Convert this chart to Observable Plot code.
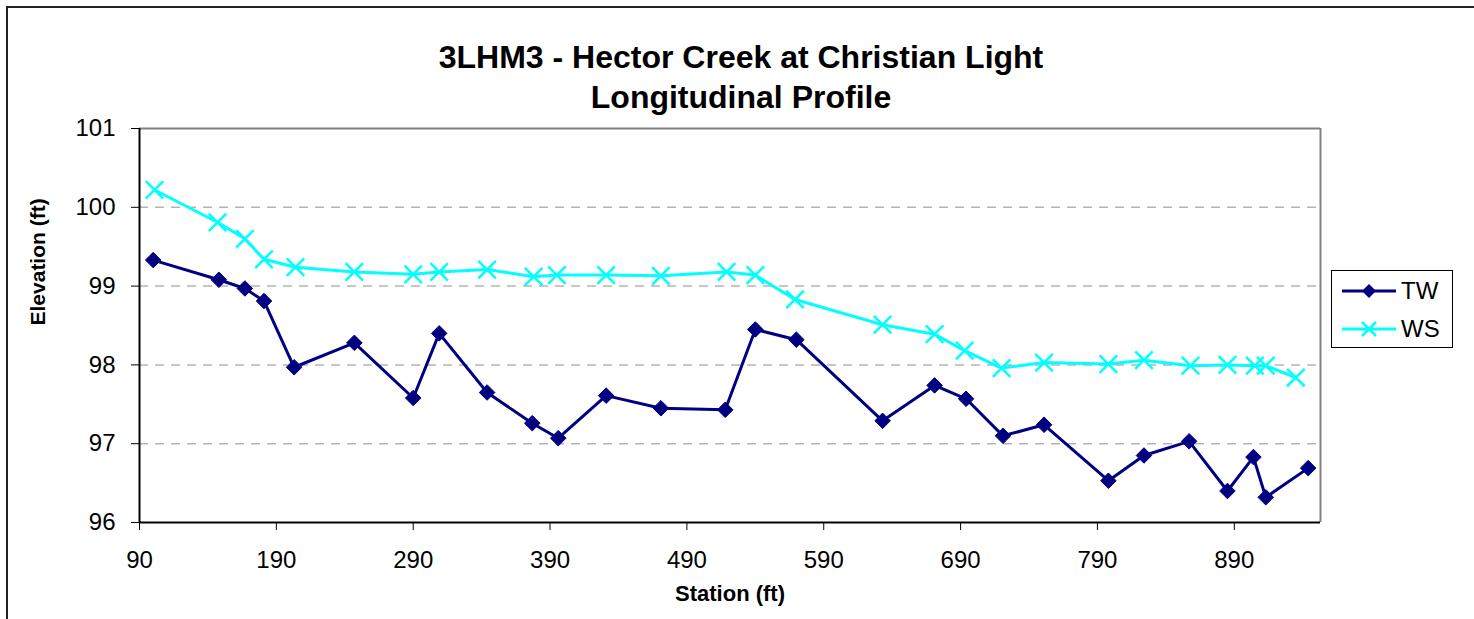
<!DOCTYPE html>
<html>
<head>
<meta charset="utf-8">
<script src="https://cdn.jsdelivr.net/npm/d3@7"></script>
<script src="https://cdn.jsdelivr.net/npm/@observablehq/plot@0.6"></script>
<style>
  html, body { margin: 0; padding: 0; background: #fff; }
  #wrap { position: relative; width: 1474px; height: 619px; overflow: hidden; font-family: "Liberation Sans", Arial, sans-serif; }
  #frame { position: absolute; left: 6px; top: 6px; width: 1500px; height: 700px; border: 2px solid #222; box-sizing: border-box; }
  #title { position: relative; height: 100px; box-sizing: border-box; padding-top: 37px; text-align: center; font-weight: bold; font-size: 32px; line-height: 40px; color: #000; padding-left: 8px; }
  #chart { position: relative; }
  #legend { position: absolute; left: 1331px; top: 270px; width: 122px; height: 78px; border: 1px solid #000; box-sizing: border-box; background: #fff; }
  #legend svg { position: absolute; left: 0; top: 0; }
</style>
</head>
<body>
<div id="wrap">
  <div id="frame"></div>
  <div id="title">3LHM3 - Hector Creek at Christian Light<br>Longitudinal Profile</div>
  <div id="chart"></div>
  <div id="legend"></div>
</div>
<script>
// Data
const twStation = [100,148,167,181,203,247,290,309,344,377,396,431,471,518,540,570,633,671,694,721,751,798,824,857,885,904,913,944];
const twElev    = [99.33,99.08,98.97,98.81,97.97,98.28,97.58,98.40,97.65,97.26,97.07,97.61,97.45,97.43,98.45,98.32,97.29,97.74,97.57,97.10,97.24,96.53,96.85,97.03,96.40,96.83,96.32,96.69];
const wsStation = [101,147,167,181,204,247,290,309,344,378,395,431,471,519,540,569,633,671,693,720,751,798,824,858,885,905,913,935];
const wsElev    = [100.22,99.81,99.60,99.34,99.24,99.18,99.15,99.18,99.21,99.12,99.14,99.14,99.13,99.18,99.14,98.83,98.51,98.39,98.18,97.96,98.03,98.01,98.06,97.99,98.00,97.99,97.99,97.84];
const xTicks = [90,190,290,390,490,590,690,790,890];
const yTicks = [96,97,98,99,100,101];
const gridTicks = [97,98,99,100];
const xDomain = [90, 953];
const yDomain = [96, 101];
const seriesNames = ["TW", "WS"];
const seriesColors = ["#000080", "#00FFFF"];

const tw = twStation.map((s, i) => ({station: s, elev: twElev[i]}));
const ws = wsStation.map((s, i) => ({station: s, elev: wsElev[i]}));

const plot = Plot.plot({
  width: 1474,
  height: 519,
  marginLeft: 139,
  marginRight: 154,
  marginTop: 28,
  marginBottom: 97,
  style: {fontFamily: "'Liberation Sans', Arial, sans-serif", fontSize: "24px", color: "#000", background: "transparent"},
  x: {domain: xDomain},
  y: {domain: yDomain},
  marks: [
    Plot.ruleY(gridTicks, {stroke: "#b4b4b4", strokeWidth: 1.5, strokeDasharray: "9,7"}),
    Plot.ruleY([101], {stroke: "#808080", strokeWidth: 2}),
    Plot.ruleX([xDomain[1]], {stroke: "#808080", strokeWidth: 2}),
    Plot.axisX({ticks: xTicks, tickSize: 8, tickPadding: 20, label: null, tickFormat: d => String(d), fontSize: 24}),
    Plot.axisY({ticks: yTicks, tickSize: 8, tickPadding: 16, label: null, tickFormat: d => String(d), fontSize: 24}),
    Plot.ruleX([90], {stroke: "#000", strokeWidth: 2}),
    Plot.ruleY([96], {stroke: "#000", strokeWidth: 2}),
    Plot.line(tw, {x: "station", y: "elev", stroke: seriesColors[0], strokeWidth: 3}),
    Plot.dot(tw, {x: "station", y: "elev", symbol: "diamond2", r: 7, fill: seriesColors[0], stroke: seriesColors[0], strokeWidth: 1}),
    Plot.line(ws, {x: "station", y: "elev", stroke: seriesColors[1], strokeWidth: 3}),
    Plot.dot(ws, {x: "station", y: "elev", symbol: "times", r: 8, stroke: seriesColors[1], strokeWidth: 2.5}),
    Plot.text(["Station (ft)"], {frameAnchor: "bottom", dy: 78, fontWeight: "bold", fontSize: 22, fill: "#000"}),
    Plot.text(["Elevation (ft)"], {frameAnchor: "left", dx: -101, rotate: -90, fontWeight: "bold", fontSize: 21, fill: "#000"})
  ]
});
document.getElementById("chart").appendChild(plot);

// Legend
const lg = d3.select("#legend").append("svg").attr("width", 122).attr("height", 78);
const rows = [20, 58];
seriesNames.forEach((name, i) => {
  const y = rows[i];
  lg.append("line").attr("x1", 10).attr("x2", 64).attr("y1", y).attr("y2", y)
    .attr("stroke", seriesColors[i]).attr("stroke-width", 3);
  if (i === 0) {
    lg.append("path").attr("d", "M37,"+(y-7)+"L44,"+y+"L37,"+(y+7)+"L30,"+y+"Z").attr("fill", seriesColors[0]);
  } else {
    lg.append("path").attr("d", "M30,"+(y-7)+"L44,"+(y+7)+"M44,"+(y-7)+"L30,"+(y+7))
      .attr("stroke", seriesColors[1]).attr("stroke-width", 2.5).attr("fill", "none");
  }
  lg.append("text").attr("x", 69).attr("y", y).attr("dy", "0.35em")
    .attr("font-size", 24).attr("font-family", "'Liberation Sans', Arial, sans-serif").attr("fill", "#000").text(name);
});
</script>
</body>
</html>
